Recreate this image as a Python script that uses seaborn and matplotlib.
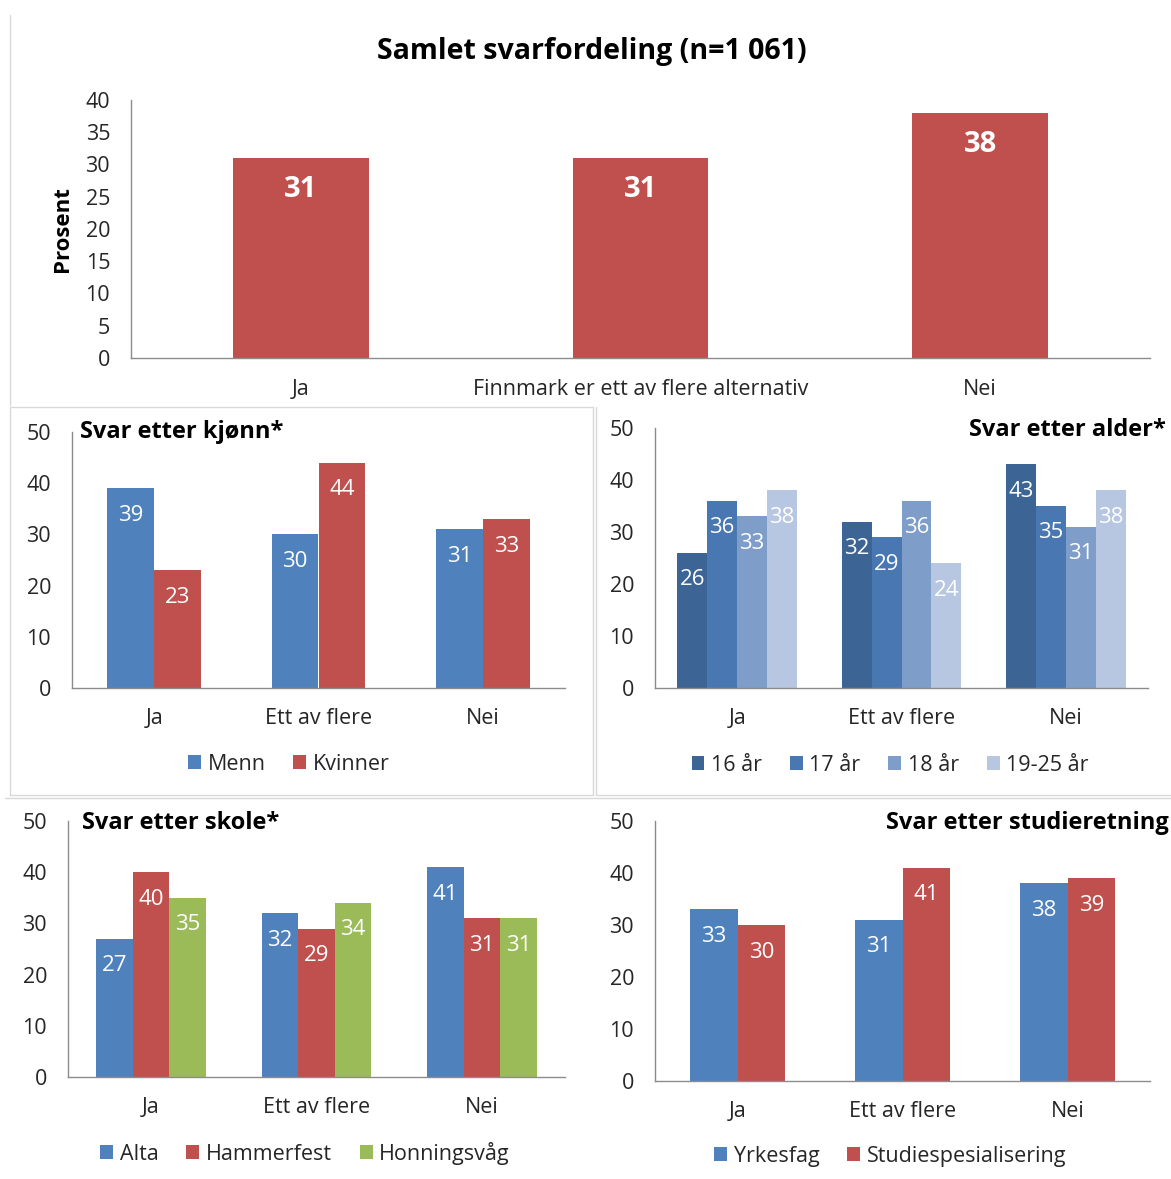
import matplotlib
matplotlib.use("Agg")
import matplotlib.pyplot as plt
from matplotlib.lines import Line2D
import seaborn as sns
import pandas as pd

# --- data -------------------------------------------------------------
top_categories = ["Ja", "Finnmark er ett av flere alternativ", "Nei"]
top_values = [31, 31, 38]

categories = ["Ja", "Ett av flere", "Nei"]

gender_labels = ["Menn", "Kvinner"]
menn = [39, 30, 31]
kvinner = [23, 44, 33]

age_labels = ["16 år", "17 år", "18 år", "19-25 år"]
age_16 = [26, 32, 43]
age_17 = [36, 29, 35]
age_18 = [33, 36, 31]
age_19_25 = [38, 24, 38]

school_labels = ["Alta", "Hammerfest", "Honningsvåg"]
alta = [27, 32, 41]
hammerfest = [40, 29, 31]
honningsvag = [35, 34, 31]

study_labels = ["Yrkesfag", "Studiespesialisering"]
yrkesfag = [33, 31, 38]
studiespes = [30, 41, 39]

# --- style ------------------------------------------------------------
sns.set_theme(style="white")
plt.rcParams["font.family"] = ["Open Sans", "DejaVu Sans"]
AXIS_GREY = "#8C8C8C"
TEXT = "#262626"
BLUE = "#4F81BD"
RED = "#C0504D"
GREEN = "#9BBB59"
AGE_COLORS = ["#3C6494", "#4877B1", "#7F9DC9", "#B8C7E1"]
TICK_SIZE = 15.5

W, H = 1171, 1179
fig = plt.figure(figsize=(W / 100, H / 100), dpi=100)


def long_frame(series, names):
    rows = []
    for vals, name in zip(series, names):
        for cat, v in zip(categories, vals):
            rows.append({"kategori": cat, "gruppe": name, "prosent": v})
    return pd.DataFrame(rows)


def style_axes(ax, ymax, step, ticks_out=True):
    ax.set_ylim(0, ymax)
    ax.set_yticks(range(0, ymax + 1, step))
    ax.set_xlim(-0.5, 2.5)
    for s in ["top", "right"]:
        ax.spines[s].set_visible(False)
    for s in ["left", "bottom"]:
        ax.spines[s].set_color(AXIS_GREY)
        ax.spines[s].set_linewidth(1.0)
    ax.set_xlabel("")
    ax.set_ylabel("")
    ax.tick_params(axis="both", labelsize=TICK_SIZE, colors=TEXT)
    if ticks_out:
        ax.tick_params(axis="y", length=4, width=1, color=AXIS_GREY, direction="out", pad=11)
        ax.set_xticks([-0.5, 0.5, 1.5, 2.5], minor=True)
        ax.tick_params(axis="x", which="minor", length=6, width=1, color=AXIS_GREY, direction="out")
        ax.tick_params(axis="x", which="major", length=0, pad=14.5)
    else:
        ax.tick_params(axis="both", length=0)


def add_labels(ax, size=16, weight="normal", pad=-20):
    for cont in ax.containers:
        ax.bar_label(cont, fmt="%d", label_type="edge", padding=pad,
                     color="white", fontsize=size, fontweight=weight)


def px_axes(left, right, y0, ytop):
    return fig.add_axes([left / W, 1 - y0 / H, (right - left) / W, (y0 - ytop) / H])


# --- top: overall distribution ------------------------------------------
ax0 = px_axes(131, 1150, 358, 100)
df_top = pd.DataFrame({"kategori": top_categories, "prosent": top_values})
sns.barplot(data=df_top, x="kategori", y="prosent", color=RED, saturation=1,
            width=0.4, linewidth=0, ax=ax0)
style_axes(ax0, 40, 5, ticks_out=False)
ax0.tick_params(axis="y", pad=15)
ax0.tick_params(axis="x", pad=15)
add_labels(ax0, size=21, weight="bold", pad=-33)
ax0.set_ylabel("Prosent", fontsize=16, fontweight="bold", color="black", labelpad=9)
fig.text(592 / W, 1 - 52 / H, "Samlet svarfordeling (n=1 061)", ha="center", va="center",
         fontsize=20.5, fontweight="bold", color="black")


def grouped(ax_box, series, names, palette, width, title, title_pos, title_ha, leg_x, leg_y):
    ax = px_axes(*ax_box)
    df = long_frame(series, names)
    sns.barplot(data=df, x="kategori", y="prosent", hue="gruppe", palette=palette,
                saturation=1, width=width, linewidth=0, gap=0, ax=ax)
    style_axes(ax, 50, 10)
    add_labels(ax, size=16, pad=-27)
    ax.legend(loc="center", bbox_to_anchor=(leg_x, leg_y), ncol=len(names), frameon=False,
              fontsize=TICK_SIZE, handlelength=0.6, handleheight=0.6, handletextpad=0.3,
              columnspacing=1.3, labelcolor=TEXT)
    fig.text(title_pos[0] / W, 1 - title_pos[1] / H, title, ha=title_ha, va="center",
             fontsize=17, fontweight="bold", color="black")
    return ax


grouped((72, 565, 688, 432), [menn, kvinner], gender_labels, [BLUE, RED], 0.57,
        "Svar etter kjønn*", (80, 432), "left", 0.44, -0.297)
grouped((655, 1148, 688, 428), [age_16, age_17, age_18, age_19_25], age_labels, AGE_COLORS, 0.73,
        "Svar etter alder*", (1166, 430), "right", 0.477, -0.297)
grouped((68, 565, 1077, 821), [alta, hammerfest, honningsvag], school_labels, [BLUE, RED, GREEN], 0.66,
        "Svar etter skole*", (82, 823), "left", 0.477, -0.297)
grouped((655, 1150, 1081, 821), [yrkesfag, studiespes], study_labels, [BLUE, RED], 0.58,
        "Svar etter studieretning", (1169, 823), "right", 0.475, -0.29)

# --- panel frames -------------------------------------------------------
FRAME = "#D9D9D9"


def fline(x0, y0, x1, y1):
    fig.add_artist(Line2D([x0 / W, x1 / W], [1 - y0 / H, 1 - y1 / H],
                          color=FRAME, linewidth=1.0, transform=fig.transFigure))


fline(10, 15, 10, 405)
fline(10, 407, 593, 407)
fline(10, 407, 10, 795)
fline(593, 407, 593, 795)
fline(10, 795, 593, 795)
fline(596, 407, 596, 795)
fline(596, 795, 1171, 795)
fline(5, 798, 1171, 798)

fig.savefig("out.png", dpi=100, facecolor="white")
